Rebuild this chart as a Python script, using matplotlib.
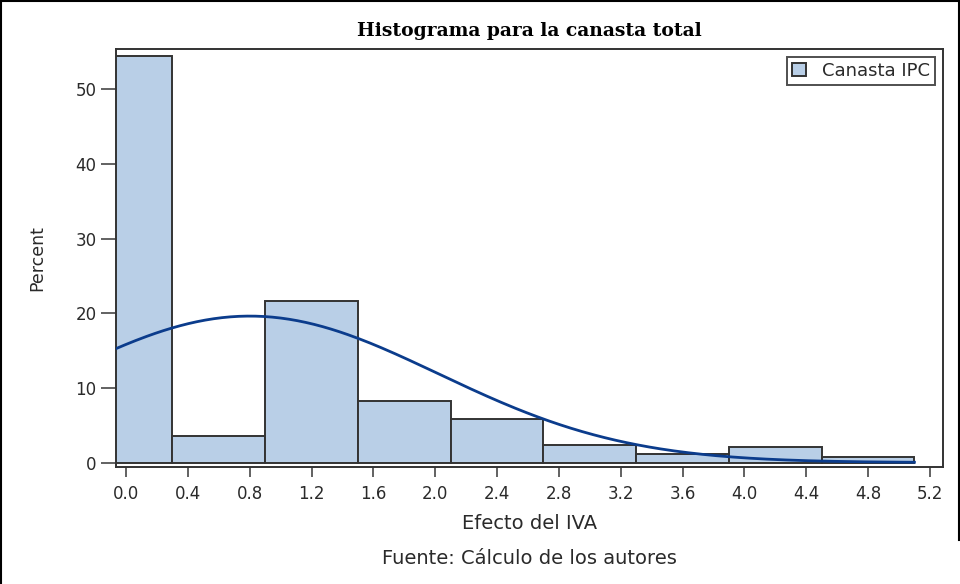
import numpy as np
import matplotlib
matplotlib.use("Agg")
import matplotlib.pyplot as plt
from matplotlib.lines import Line2D

# histogram bins (centres, width 0.6) and percent per bin
bin_centers = [0.0, 0.6, 1.2, 1.8, 2.4, 3.0, 3.6, 4.2, 4.8]
percents = [54.4, 3.5, 21.7, 8.3, 5.9, 2.3, 1.1, 2.1, 0.7]
bin_width = 0.6

# normal fit
fit_mean = 0.80
fit_sd = 1.22

xticks = [0.0, 0.4, 0.8, 1.2, 1.6, 2.0, 2.4, 2.8, 3.2, 3.6, 4.0, 4.4, 4.8, 5.2]
yticks = [0, 10, 20, 30, 40, 50]

plt.rcParams['font.family'] = ['DejaVu Sans']
txt = '#2a2a2a'

fig = plt.figure(figsize=(9.6, 5.84), dpi=100)
ax = fig.add_axes([0.1208, 0.2003, 0.8615, 0.7158])

ax.bar(bin_centers, percents, width=bin_width, color='#B9CFE7',
       edgecolor='#333333', linewidth=1.4, label='Canasta IPC', zorder=2)

xs = np.linspace(bin_centers[0] - bin_width / 2, bin_centers[-1] + bin_width / 2, 300)
dens = np.exp(-(xs - fit_mean) ** 2 / (2 * fit_sd ** 2)) / (fit_sd * np.sqrt(2 * np.pi))
ax.plot(xs, dens * 100 * bin_width, color='#0B3C8C', linewidth=2.0, zorder=3)

ax.set_xlim(-0.065, 5.285)
ax.set_ylim(-0.6, 55.4)
ax.set_xticks(xticks)
ax.set_xticklabels([f"{t:.1f}" for t in xticks])
ax.set_yticks(yticks)
ax.tick_params(axis='both', direction='out', width=1.3, color='#555555',
               labelsize=12, labelcolor=txt)
ax.tick_params(axis='x', length=7, pad=6)
ax.tick_params(axis='y', length=11, pad=3)
for s in ax.spines.values():
    s.set_color('#333333')
    s.set_linewidth(1.4)

ax.set_ylabel('Percent', fontsize=12.5, color=txt)
ax.yaxis.set_label_coords(-0.0955, 0.5)
ax.yaxis.label.set_va('center')
ax.set_xlabel('Efecto del IVA', fontsize=14, color=txt)
ax.xaxis.set_label_coords(0.5, -0.134)
ax.xaxis.label.set_va('center')
fig.text(0.5515, 1 - 558 / 584, 'Fuente: Cálculo de los autores', ha='center',
         va='center', fontsize=14, color=txt)
fig.text(0.5515, 1 - 36 / 584, 'Histograma para la canasta total', ha='center',
         va='baseline', fontsize=13.5, fontweight='bold', family=['DejaVu Serif'])

leg = ax.legend(loc='upper right', fontsize=13, frameon=True, fancybox=False,
                handlelength=0.75, handleheight=0.75, borderaxespad=0.45,
                borderpad=0.28, handletextpad=0.9, labelcolor=txt)
leg.get_frame().set_edgecolor('#222222')
leg.get_frame().set_linewidth(1.4)

# outer border of the picture (left, top, right)
for xy in [([0.0015, 0.0015], [0.0, 0.998]),
           ([0.0015, 0.9985], [0.998, 0.998]),
           ([0.9985, 0.9985], [0.998, 1 - 540 / 584])]:
    fig.add_artist(Line2D(xy[0], xy[1], transform=fig.transFigure,
                          color='black', linewidth=1.5))

fig.savefig('out.png', dpi=100)
